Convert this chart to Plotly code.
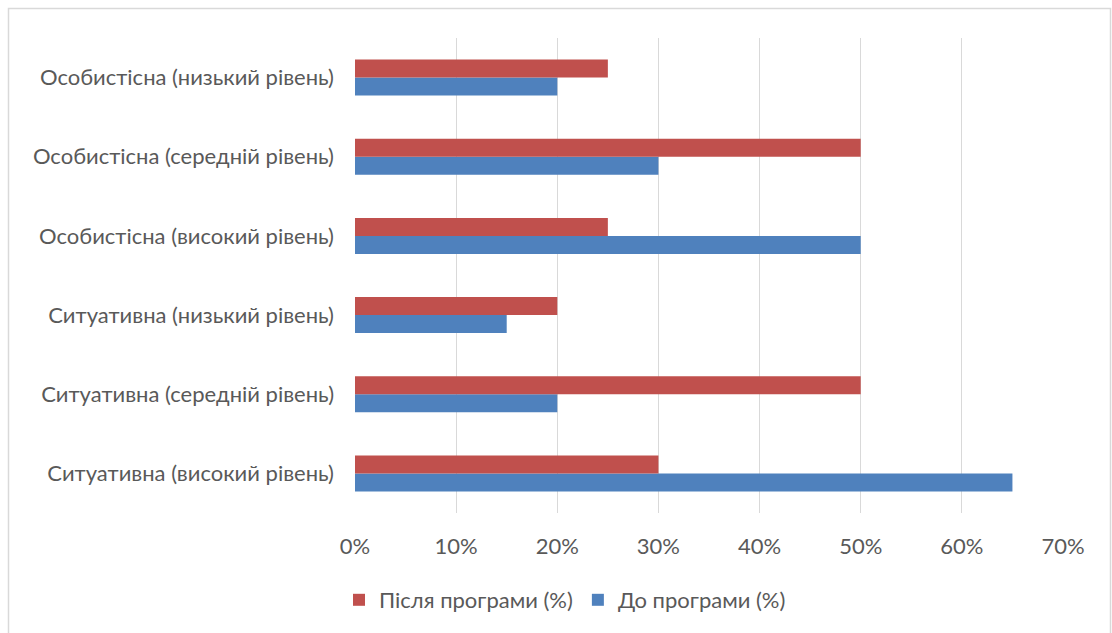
import plotly.graph_objects as go

categories = [
    "Ситуативна (високий рівень)",
    "Ситуативна (середній рівень)",
    "Ситуативна (низький рівень)",
    "Особистісна (високий рівень)",
    "Особистісна (середній рівень)",
    "Особистісна (низький рівень)",
]
before = [65, 20, 15, 50, 30, 20]
after = [30, 50, 20, 25, 50, 25]
x_ticks = [0, 10, 20, 30, 40, 50, 60, 70]
x_tick_labels = [f"{t}%" for t in x_ticks]

W, H = 1112, 633
ML, MR, MT, MB = 355, 49, 38, 120
FONT = "Lato"
GREY = "#595959"
FS = 22

fig = go.Figure()
fig.add_trace(go.Bar(y=categories, x=before, orientation="h", name="До програми (%)",
                     marker=dict(color="#4F81BD", line=dict(width=0))))
fig.add_trace(go.Bar(y=categories, x=after, orientation="h", name="Після програми (%)",
                     marker=dict(color="#C0504D", line=dict(width=0))))

pw = W - ML - MR
ph = H - MT - MB
def px_x(p):
    return (p - ML) / pw
def px_y(p):
    return 1 - (p - MT) / ph

fig.add_shape(type="rect", xref="paper", yref="paper",
              x0=px_x(8.5), x1=px_x(1110.5), y0=px_y(700), y1=px_y(8.5),
              line=dict(color="#d9d9d9", width=1.5), fillcolor="rgba(0,0,0,0)", layer="below")

fig.update_layout(
    width=W, height=H,
    margin=dict(l=ML, r=MR, t=MT, b=MB, autoexpand=False),
    paper_bgcolor="white", plot_bgcolor="white",
    barmode="group", bargap=0.545, bargroupgap=0,
    font=dict(family=FONT, color=GREY, size=FS),
    xaxis=dict(range=[0, 70], tickvals=x_ticks, ticktext=x_tick_labels,
               showgrid=True, gridcolor="#d9d9d9", gridwidth=1.3,
               zeroline=False, showline=False, ticks="",
               tickfont=dict(size=FS, color=GREY), ticklabelstandoff=18,
               automargin=False),
    yaxis=dict(showgrid=False, zeroline=False, showline=False, ticks="",
               tickfont=dict(size=FS, color=GREY), ticklabelstandoff=20,
               automargin=False),
    legend=dict(orientation="h", xref="container", x=565 / W, xanchor="center",
                yref="container", y=1 - 600 / H, yanchor="middle",
                traceorder="reversed", font=dict(size=FS, color=GREY),
                itemwidth=30),
    showlegend=True,
)

fig.write_html("out.html")
